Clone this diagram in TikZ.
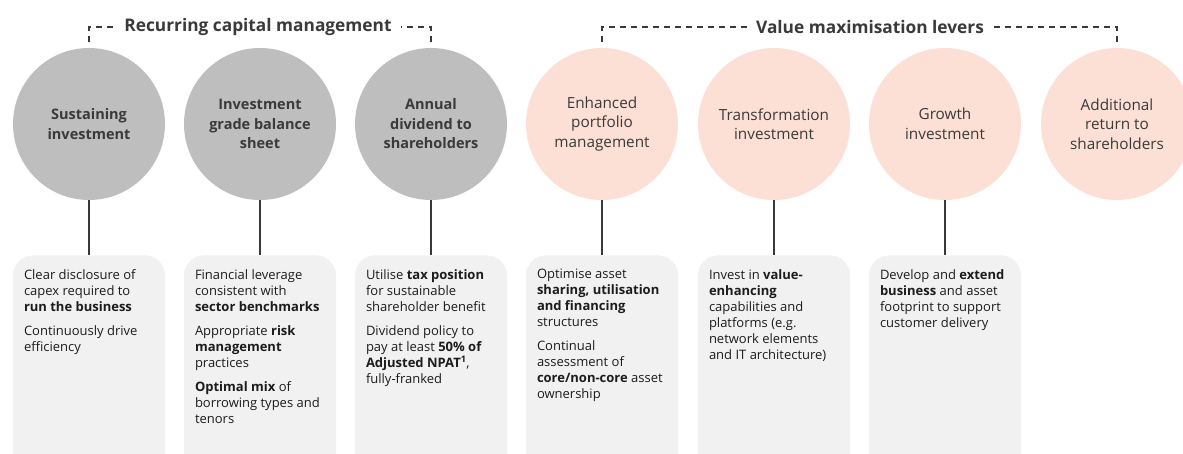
\documentclass[tikz,border=0pt]{standalone}
\usepackage{fontspec}
\setmainfont{Open Sans}
\usetikzlibrary{positioning}
\definecolor{Ink}{HTML}{1C1C1C}
\definecolor{Slate}{HTML}{3A3A3A}
\definecolor{Stone}{HTML}{BEBEBE}
\definecolor{Blush}{HTML}{FCDFD5}
\definecolor{Mist}{HTML}{F1F1F1}

\tikzset{
  pillar/.style={circle, fill=Stone, minimum size=152pt, inner sep=0pt, align=center,
    text=Slate, font=\fontsize{14.5}{19.5}\selectfont\bfseries},
  lever/.style={circle, fill=Blush, minimum size=152pt, inner sep=0pt, align=center,
    text=Slate, font=\fontsize{15.3}{19.5}\selectfont},
  panel/.style={fill=Mist, rounded corners=20pt, minimum width=152pt, minimum height=225pt,
    inner sep=0pt},
  detail/.style={anchor=north west, align=left, inner xsep=11pt, inner ysep=14pt,
    text=Ink, font=\fontsize{13}{16}\selectfont},
  heading/.style={text=Slate, inner xsep=9pt, font=\fontsize{17.3}{20}\selectfont\bfseries},
  bracket/.style={Slate, line width=1.2pt, dash pattern=on 6pt off 5pt},
  stem/.style={Slate, line width=1.5pt}
}

\begin{document}
\begin{tikzpicture}[x=1pt, y=-1pt]
  \clip (0,0) rectangle (1183,453);
  \fill[white] (0,0) rectangle (1183,453);

  % recurring capital management
  \node[pillar] (sustain) at (89,124) {Sustaining\\investment};
  \node[pillar] (grade) at (260,124) {Investment\\grade balance\\sheet};
  \node[pillar] (dividend) at (431,124) {Annual\\dividend to\\shareholders};

  % value maximisation levers
  \node[lever] (portfolio) at (602,124) {Enhanced\\portfolio\\management};
  \node[lever] (transform) at (774,124) {Transformation\\investment};
  \node[lever] (growth) at (945,124) {Growth\\investment};
  \node[lever] (extra) at (1117,124) {Additional\\return to\\shareholders};

  \node[heading] (rcm) at (258,27) {Recurring capital management};
  \node[heading] (vml) at (870,27) {Value maximisation levers};
  \draw[bracket] ([yshift=6pt]sustain.north) |- (rcm.west);
  \draw[bracket] ([yshift=6pt]dividend.north) |- (rcm.east);
  \draw[bracket] ([yshift=6pt]portfolio.north) |- (vml.west);
  \draw[bracket] ([yshift=6pt]extra.north) |- (vml.east);

  % detail panels
  \node[panel, anchor=north, below=55pt of sustain] (p1) {};
  \node[panel, anchor=north, below=55pt of grade] (p2) {};
  \node[panel, anchor=north, below=55pt of dividend] (p3) {};
  \node[panel, anchor=north, below=55pt of portfolio] (p4) {};
  \node[panel, anchor=north, below=55pt of transform] (p5) {};
  \node[panel, anchor=north, below=55pt of growth] (p6) {};

  \draw[stem] (sustain) -- (p1);
  \draw[stem] (grade) -- (p2);
  \draw[stem] (dividend) -- (p3);
  \draw[stem] (portfolio) -- (p4);
  \draw[stem] (transform) -- (p5);
  \draw[stem] (growth) -- (p6);

  \node[detail] (t1) at (p1.north west) {Clear disclosure of\\capex required to\\\textbf{run the business}\\[8pt]
    Continuously drive\\efficiency};
  \node[detail] (t2) at (p2.north west) {Financial leverage\\consistent with\\\textbf{sector benchmarks}\\[8pt]
    Appropriate \textbf{risk}\\\textbf{management}\\practices\\[8pt]
    \textbf{Optimal mix} of\\borrowing types and\\tenors};
  \node[detail] (t3) at (p3.north west) {Utilise \textbf{tax position}\\for sustainable\\shareholder benefit\\[8pt]
    Dividend policy to\\pay at least \textbf{50\% of}\\\textbf{Adjusted NPAT\textsuperscript{1}},\\fully-franked};
  \node[detail] (t4) at (p4.north west) {Optimise asset\\\textbf{sharing, utilisation}\\\textbf{and financing}\\structures\\[8pt]
    Continual\\assessment of\\\textbf{core/non-core} asset\\ownership};
  \node[detail] (t5) at (p5.north west) {Invest in \textbf{value-}\\\textbf{enhancing}\\capabilities and\\platforms (e.g.\\network elements\\and IT architecture)};
  \node[detail] (t6) at (p6.north west) {Develop and \textbf{extend}\\\textbf{business} and asset\\footprint to support\\customer delivery};
\end{tikzpicture}
\end{document}
